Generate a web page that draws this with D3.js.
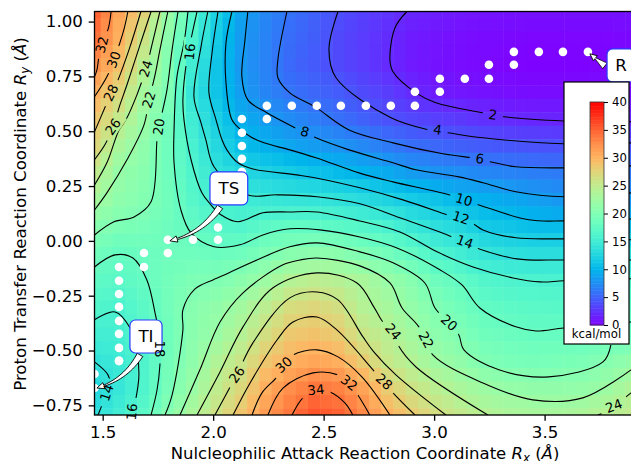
<!DOCTYPE html>
<html>
<head>
<meta charset="utf-8">
<script src="https://cdn.jsdelivr.net/npm/d3@7"></script>
<style>
  html, body { margin: 0; padding: 0; background: #fff; overflow: hidden; }
  text { font-family: "DejaVu Sans", sans-serif; fill: #000; }
</style>
</head>
<body>
<div id="chart"></div>
<script>
// energy surface, kcal/mol, one row per ryGrid value
let rxGrid = [1.463,1.573,1.684,1.794,1.905,2.015,2.126,2.236,2.346,2.457,2.567,2.678,2.788,2.899,3.009,3.119,3.230,3.340,3.451,3.561,3.672,3.782,3.893];
let ryGrid = [1.047,.924,.801,.679,.556,.433,.311,.188,.065,-.058,-.181,-.303,-.426,-.549,-.672,-.794];
let energy = [
  [35,31,27.6,22,17,12.3,8.9,7.1,5.9,5,4,3.3,2.6,1.9,1.5,1.2,1,.9,.8,.8,.8,.8,.8],
  [34,30.3,26,21,16.2,11.7,8.4,6.9,5.6,4.8,3.7,3,2.2,1.4,1,.7,.5,.4,.3,.3,.3,.3,.4],
  [32.3,29.1,24.6,20.3,15.2,11.2,8.2,6.8,5.4,4.6,3.7,3,2.1,1.3,.9,.6,.4,.2,.1,.1,.1,.2,.4],
  [30.2,27.3,23,19.9,14.3,11.2,8.6,7,6,5.3,4.7,3.8,3.1,2.1,1.4,1.1,.9,.7,.6,.6,.6,.6,.7],
  [28.5,25.4,22.1,19.1,15,12,9.5,8.4,7.4,6.6,5.8,5,4.1,3.6,3.2,2.8,2.4,2.1,1.9,1.8,1.8,1.8,1.9],
  [27.2,23.3,21.2,18.7,15.7,12.9,10.8,9.8,9,8.4,7.9,7.2,6.4,5.7,5.3,4.9,4.6,4.4,4.2,4.1,4.1,4.1,4.1],
  [24.9,21.8,20.7,18.7,16.3,13.9,12.8,12.2,11.7,11,10.5,9.9,9.3,8.4,7.8,7.5,7.1,6.9,6.6,6.4,6.3,6.3,6.3],
  [23,21.2,20.3,18.9,16.9,15.2,14.9,14.6,14.3,14.1,13.8,13.2,12.4,11.7,11.1,10.2,9.7,9.2,8.7,8.2,8,8,8],
  [20.7,19.8,19.4,18.6,17.8,16.9,16.4,17.2,17.7,17.6,17.2,16.7,15.9,14.6,13.5,12.8,11.6,11.2,10.7,10.6,10.6,10.6,10.6],
  [18.9,18,18.3,18.7,18.7,18.4,18.7,19.7,20.7,21,20.9,20,19,17.8,16.2,15.2,14.2,13.5,13.4,13.4,13.4,13.4,13.4],
  [17.5,17.1,17.9,19.1,19.8,20,20.9,22.3,24.1,24.8,24.2,23.3,22,20.5,18.6,17.7,16.5,16.1,16,15.9,15.9,15.9,15.9],
  [16.5,15.9,17.2,19,20.6,21.4,22.7,24.7,26.7,27.3,26.4,24.1,23.1,21.5,20,18.9,17.7,17.3,17.1,17,17.1,17.2,17.3],
  [15.3,15.4,16.8,18.8,20.8,22.1,24.1,26.4,28.5,29,28.2,25.8,24.5,22.7,21,20,18.8,18.4,18.1,18.1,18.2,18.4,18.5],
  [14,14.8,16.2,19,21.2,23.9,25.8,28.6,30.1,31,30.4,28.2,25.5,24,22.4,21.4,20,19.5,19.3,19.5,19.7,20.5,21.4],
  [13,14.3,16.3,19.4,22,25,27.2,30.4,32.4,33.8,33.2,31.2,28.3,26,24.6,23.3,22.3,21.7,21.4,21.4,21.5,22.3,23.7],
  [13.5,15.2,17.1,20.4,23.4,26.1,28.8,31.6,33.8,35.8,35,32.8,30.2,28.2,26.5,25.2,24.1,23.5,23.2,23.2,23.6,24.3,25]
];

// contour lines as [Rx, Ry]
let contour2 = [[[2.877,1.046],[2.823,.972],[2.8,.826],[2.814,.771],[2.918,.675],[3.008,.63],[3.221,.584],[3.316,.566],[3.587,.547],[3.891,.543]]];
let contour4 = [[[2.565,1.046],[2.524,.871],[2.556,.744],[2.805,.561],[2.977,.506],[3.063,.493],[3.221,.47],[3.587,.443],[3.891,.447]]];
let contour6 = [[[2.334,1.046],[2.293,.826],[2.293,.744],[2.347,.675],[2.461,.611],[2.615,.506],[2.814,.447],[3.04,.397],[3.203,.374],[3.257,.36],[3.37,.338],[3.587,.333],[3.891,.342]]];
let contour8 = [[[2.157,1.046],[2.144,.917],[2.13,.748],[2.157,.643],[2.243,.584],[2.37,.516],[2.465,.47],[2.615,.415],[2.814,.356],[2.918,.324],[3.112,.292],[3.221,.265],[3.37,.224],[3.587,.201],[3.891,.219]]];
let contour10 = [[[2.085,1.046],[2.058,.903],[2.058,.721],[2.085,.552],[2.126,.506],[2.171,.474],[2.23,.447],[2.347,.415],[2.465,.379],[2.66,.31],[2.814,.269],[3.067,.21],[3.203,.164],[3.429,.096],[3.587,.091],[3.891,.1]]];
let contour12 = [[[2.022,1.046],[1.995,.858],[1.981,.675],[2.013,.552],[2.04,.461],[2.062,.415],[2.112,.356],[2.18,.328],[2.379,.301],[2.465,.287],[2.664,.242],[2.859,.187],[3.058,.119],[3.176,.078],[3.221,.05],[3.37,.014],[3.587,.009],[3.891,.005]]];
let contour14 = [
  [[1.976,1.046],[1.945,.885],[1.913,.657],[1.945,.538],[1.967,.461],[2.004,.338],[2.153,.21],[2.289,.21],[2.47,.201],[2.664,.169],[2.845,.105],[3.081,.018],[3.176,-.027],[3.375,-.082],[3.582,-.087],[3.891,-.087]],
  [[1.463,-.552],[1.524,-.611],[1.533,-.657],[1.519,-.689],[1.497,-.748],[1.479,-.794]]
];
let contour16 = [
  [[1.927,1.046],[1.904,.94],[1.881,.826],[1.863,.643],[1.868,.552],[1.9,.37],[1.949,.219],[1.99,.164],[2.035,.119],[2.112,.087],[2.225,.128],[2.347,.132],[2.47,.132],[2.664,.091],[2.845,.041],[3.013,-.05],[3.176,-.119],[3.357,-.169],[3.479,-.187],[3.587,-.182],[3.891,-.173]],
  [[1.463,-.36],[1.556,-.324],[1.624,-.397],[1.655,-.506],[1.664,-.611],[1.655,-.693],[1.633,-.794]]
];
let contour18 = [
  [[1.886,1.046],[1.868,.903],[1.836,.748],[1.823,.506],[1.823,.356],[1.854,.141],[1.9,.036],[2.004,-.027],[2.121,-.018],[2.225,.027],[2.347,.055],[2.483,.05],[2.664,.018],[2.832,-.032],[3.026,-.132],[3.126,-.201],[3.207,-.306],[3.37,-.392],[3.461,-.411],[3.587,-.397],[3.891,-.37]],
  [[1.463,-.119],[1.556,-.064],[1.637,-.078],[1.7,-.178],[1.737,-.328],[1.759,-.452],[1.759,-.566],[1.746,-.68],[1.719,-.794]]
];
let contour20 = [
  [[1.841,1.046],[1.814,.871],[1.791,.689],[1.755,.52],[1.746,.461],[1.719,.178],[1.642,.109],[1.551,.087],[1.463,.027]],
  [[1.782,-.794],[1.814,-.703],[1.863,-.406],[1.863,-.315],[1.918,-.219],[1.999,-.178],[2.031,-.164],[2.198,-.087],[2.347,-.027],[2.47,-.009],[2.664,-.05],[2.814,-.1],[2.958,-.192],[3.004,-.306],[3.067,-.374],[3.112,-.429],[3.135,-.497],[3.293,-.588],[3.519,-.62],[3.764,-.552],[3.8,-.474]]
];
let contour22 = [
  [[1.795,1.046],[1.759,.871],[1.737,.757],[1.71,.643],[1.687,.529],[1.61,.37],[1.519,.219],[1.463,.141]],
  [[1.85,-.794],[1.94,-.588],[2.031,-.37],[2.135,-.237],[2.316,-.109],[2.393,-.087],[2.47,-.078],[2.664,-.114],[2.8,-.192],[2.855,-.306],[2.931,-.392],[2.994,-.52],[3.221,-.648],[3.447,-.725],[3.673,-.716],[3.891,-.588]]
];
let contour24 = [
  [[1.759,1.046],[1.723,.894],[1.696,.785],[1.655,.666],[1.605,.552],[1.574,.506],[1.519,.356],[1.463,.255]],
  [[1.927,-.794],[2.031,-.598],[2.135,-.392],[2.271,-.214],[2.47,-.146],[2.651,-.192],[2.727,-.301],[2.768,-.37],[2.814,-.415],[2.836,-.474],[2.918,-.575],[3.243,-.794]],
  [[3.741,-.794],[3.764,-.785],[3.814,-.753],[3.891,-.693]]
];
let contour26 = [
  [[1.719,1.046],[1.669,.894],[1.61,.712],[1.578,.62],[1.547,.52],[1.51,.438],[1.463,.37]],
  [[2.008,-.794],[2.108,-.607],[2.18,-.465],[2.347,-.26],[2.47,-.233],[2.565,-.269],[2.678,-.438],[2.727,-.506],[2.827,-.611],[3.053,-.794]]
];
let contour28 = [
  [[1.673,1.046],[1.619,.871],[1.56,.712],[1.538,.675],[1.515,.62],[1.463,.497]],
  [[2.09,-.794],[2.167,-.648],[2.289,-.452],[2.361,-.37],[2.47,-.347],[2.56,-.406],[2.732,-.598],[2.773,-.643],[2.814,-.693],[2.913,-.794]]
];
let contour30 = [
  [[1.614,1.046],[1.596,.963],[1.551,.826],[1.519,.748],[1.463,.657]],
  [[2.176,-.794],[2.221,-.693],[2.289,-.62],[2.32,-.566],[2.361,-.52],[2.47,-.497],[2.565,-.529],[2.673,-.62],[2.8,-.794]]
];
let contour32 = [
  [[1.538,1.046],[1.524,.963],[1.492,.894],[1.474,.78],[1.463,.748]],
  [[2.248,-.794],[2.316,-.671],[2.452,-.602],[2.565,-.611],[2.615,-.648],[2.655,-.703],[2.709,-.794]]
];
let contour34 = [[[2.357,-.794],[2.406,-.716],[2.465,-.68],[2.528,-.689],[2.596,-.739],[2.632,-.794]]];
let contourLines = [contour2,contour4,contour6,contour8,contour10,contour12,contour14,contour16,contour18,contour20,contour22,contour24,contour26,contour28,contour30,contour32,contour34];

// inline contour labels
let labelText = ["2","4","6","8","10","12","14","16","14","16","18","20","20","22","22","24","24","24","26","26","28","28","30","30","32","32","34"];
let labelRx = [3.266,3.016,3.207,2.415,3.135,3.121,3.139,1.895,1.519,1.633,1.759,1.755,3.067,1.71,2.963,1.696,2.814,3.814,1.547,2.108,1.538,2.773,1.551,2.32,1.497,2.615,2.465];
let labelRy = [.575,.506,.374,.497,.187,.105,-.005,.862,-.693,-.78,-.493,.52,-.374,.643,-.452,.785,-.415,-.753,.52,-.611,.675,-.643,.826,-.566,.894,-.648,-.68];
let labelAngle = [8,8,8,16,16,18,20,-85,-72,-85,90,-82,42,-72,62,-72,50,-20,-55,-55,-65,42,-70,-42,-76,38,-6];

// the path of white dots
let dotRx = [3.696,3.583,3.474,3.361,3.361,3.248,3.248,3.139,3.026,3.026,2.913,2.913,2.804,2.691,2.578,2.469,2.356,2.243,2.243,2.13,2.13,2.13,2.13,2.13,2.022,2.022,1.909,1.795,1.795,1.687,1.687,1.574,1.574,1.574,1.574,1.574,1.574,1.574,1.574,1.574,1.463,1.463,1.463];
let dotRy = [.862,.862,.862,.862,.803,.803,.739,.739,.739,.68,.68,.616,.616,.616,.616,.616,.616,.616,.556,.556,.493,.433,.374,.315,.061,.005,.005,.005,-.055,-.055,-.119,-.119,-.182,-.242,-.301,-.365,-.424,-.488,-.547,-.547,-.607,-.671];

// annotation boxes and their arrows
let noteText = ["R","TS","TI"];
let noteRx = [3.846,2.071,1.696];
let noteRy = [.80,.239,-.436];
let noteTailRx = [3.773,2.031,1.669];
let noteTailRy = [.798,.155,-.52];
let noteTipRx = [3.705,1.804,1.474];
let noteTipRy = [.853,0,-.671];

let xTicks = [1.5,2,2.5,3,3.5];
let yTicks = [1,.75,.5,.25,0,-.25,-.5,-.75];
let barTicks = [0,5,10,15,20,25,30,35,40];

let width = 631, height = 461;
let plot = {left: 94.5, right: 631, top: 11.5, bottom: 415};

let x = d3.scaleLinear().domain([1.463, 3.891]).range([plot.left, plot.right]);
let y = d3.scaleLinear().domain([1.046, -.794]).range([plot.top, plot.bottom]);

// matplotlib's "rainbow"
let color = d3.scaleSequential([0, 40], function(t) {
  return d3.rgb(
    255 * Math.abs(2 * t - .5),
    255 * Math.sin(Math.PI * t),
    255 * Math.cos(Math.PI * t / 2)
  ).toString();
});

let svg = d3.select("#chart").append("svg")
  .attr("width", width).attr("height", height)
  .style("display", "block");

let defs = svg.append("defs");
defs.append("clipPath").attr("id", "plotClip").append("rect")
  .attr("x", plot.left).attr("y", plot.top)
  .attr("width", plot.right - plot.left).attr("height", plot.bottom - plot.top);

// heat cells at half the grid step, same look as the blocky original
let cells = [];
d3.range(0, 2 * rxGrid.length - 1).forEach(function(i) {
  d3.range(0, 2 * ryGrid.length - 1).forEach(function(j) {
    let i0 = Math.floor(i / 2), i1 = Math.ceil(i / 2);
    let j0 = Math.floor(j / 2), j1 = Math.ceil(j / 2);
    cells.push({
      x0: i == 0 ? rxGrid[0] : (rxGrid[Math.floor((i - 1) / 2)] + rxGrid[Math.ceil((i - 1) / 2)] + rxGrid[i0] + rxGrid[i1]) / 4,
      x1: i == 2 * rxGrid.length - 2 ? rxGrid[rxGrid.length - 1] : (rxGrid[i0] + rxGrid[i1] + rxGrid[Math.floor((i + 1) / 2)] + rxGrid[Math.ceil((i + 1) / 2)]) / 4,
      y0: j == 0 ? ryGrid[0] : (ryGrid[Math.floor((j - 1) / 2)] + ryGrid[Math.ceil((j - 1) / 2)] + ryGrid[j0] + ryGrid[j1]) / 4,
      y1: j == 2 * ryGrid.length - 2 ? ryGrid[ryGrid.length - 1] : (ryGrid[j0] + ryGrid[j1] + ryGrid[Math.floor((j + 1) / 2)] + ryGrid[Math.ceil((j + 1) / 2)]) / 4,
      z: (energy[j0][i0] + energy[j0][i1] + energy[j1][i0] + energy[j1][i1]) / 4
    });
  });
});

let plotArea = svg.append("g").attr("clip-path", "url(#plotClip)");

plotArea.append("g").selectAll("rect").data(cells).enter().append("rect")
  .attr("x", d => x(d.x0))
  .attr("y", d => y(d.y0))
  .attr("width", d => x(d.x1) - x(d.x0) + .5)
  .attr("height", d => y(d.y1) - y(d.y0) + .5)
  .attr("fill", d => color(d.z));

// contour lines, with gaps cut out where the labels go
let mask = defs.append("mask").attr("id", "labelGaps")
  .attr("maskUnits", "userSpaceOnUse")
  .attr("x", 0).attr("y", 0).attr("width", width).attr("height", height);
mask.append("rect").attr("width", width).attr("height", height).attr("fill", "#fff");

let line = d3.line().x(d => x(d[0])).y(d => y(d[1])).curve(d3.curveCatmullRom.alpha(.5));

plotArea.append("g").attr("mask", "url(#labelGaps)")
  .selectAll("path").data(contourLines.flat()).enter().append("path")
  .attr("d", line)
  .attr("fill", "none")
  .attr("stroke", "#000")
  .attr("stroke-width", 1.1);

plotArea.append("g").selectAll("circle").data(dotRx).enter().append("circle")
  .attr("cx", d => x(d))
  .attr("cy", (d, i) => y(dotRy[i]))
  .attr("r", 4.3)
  .attr("fill", "#fff");

// axes
let xAxis = svg.append("g").attr("transform", "translate(0," + plot.bottom + ")")
  .call(d3.axisBottom(x).tickValues(xTicks).tickFormat(d3.format(".1f")).tickSize(5.8).tickPadding(5.8));
let yAxis = svg.append("g").attr("transform", "translate(" + plot.left + ",0)")
  .call(d3.axisLeft(y).tickValues(yTicks).tickFormat(d3.format(".2f")).tickSize(5.8).tickPadding(5.8));
svg.selectAll(".tick text").style("font-size", "16.67px").attr("font-family", null);
svg.selectAll(".tick line").attr("stroke-width", 1.33);
xAxis.select(".domain").remove();
yAxis.select(".domain").remove();

svg.append("rect")
  .attr("x", plot.left).attr("y", plot.top)
  .attr("width", plot.right - plot.left + 5).attr("height", plot.bottom - plot.top)
  .attr("fill", "none").attr("stroke", "#000").attr("stroke-width", 1.33);

let xTitle = svg.append("text")
  .attr("x", 365).attr("y", 459)
  .attr("text-anchor", "middle").style("font-size", "16.5px");
xTitle.append("tspan").text("Nulcleophilic Attack Reaction Coordinate ");
xTitle.append("tspan").style("font-style", "italic").text("R");
xTitle.append("tspan").style("font-style", "italic").style("font-size", "11.7px").attr("dy", 2.5).text("x");
xTitle.append("tspan").attr("dy", -2.5).text(" (");
xTitle.append("tspan").style("font-style", "italic").text("Å");
xTitle.append("tspan").text(")");

let yTitle = svg.append("text")
  .attr("transform", "translate(26,214) rotate(-90)")
  .attr("text-anchor", "middle").style("font-size", "16.67px");
yTitle.append("tspan").text("Proton Transfer Reaction Coordinate ");
yTitle.append("tspan").style("font-style", "italic").text("R");
yTitle.append("tspan").style("font-style", "italic").style("font-size", "11.7px").attr("dy", 2.5).text("y");
yTitle.append("tspan").attr("dy", -2.5).text(" (");
yTitle.append("tspan").style("font-style", "italic").text("Å");
yTitle.append("tspan").text(")");

// a tapered arc3 style arrow, same as matplotlib's "fancy" boxes
function arrowShape(x0, y0, x1, y1, rad, tail) {
  let cx = (x0 + x1) / 2 + rad * (y1 - y0);
  let cy = (y0 + y1) / 2 - rad * (x1 - x0);
  let at = function(t) {
    let a = (1 - t) * (1 - t), b = 2 * t * (1 - t), c = t * t;
    let dx = 2 * (1 - t) * (cx - x0) + 2 * t * (x1 - cx);
    let dy = 2 * (1 - t) * (cy - y0) + 2 * t * (y1 - cy);
    let n = Math.hypot(dx, dy);
    return {x: a * x0 + b * cx + c * x1, y: a * y0 + b * cy + c * y1, nx: -dy / n, ny: dx / n, len: n};
  };
  let len = at(.5).len;
  let head = Math.min(.8, 7 / len);
  let left = [], right = [];
  d3.range(0, 1 - head + .001, (1 - head) / 16).forEach(function(t) {
    let p = at(t);
    let w = tail * (1 - t / (1 - head)) + .6;
    left.push([p.x + p.nx * w, p.y + p.ny * w]);
    right.unshift([p.x - p.nx * w, p.y - p.ny * w]);
  });
  let b = at(1 - head);
  left.push([b.x + b.nx * 3.2, b.y + b.ny * 3.2]);
  left.push([x1, y1]);
  right.unshift([b.x - b.nx * 3.2, b.y - b.ny * 3.2]);
  return d3.line()(left.concat(right)) + "Z";
}

let notes = svg.append("g").selectAll("g").data(noteText).enter().append("g");

notes.append("path")
  .attr("d", (d, i) => arrowShape(x(noteTailRx[i]), y(noteTailRy[i]), x(noteTipRx[i]), y(noteTipRy[i]), i == 0 ? 0 : .2, i == 0 ? 3 : 2.6))
  .attr("fill", "#fff").attr("stroke", "#000").attr("stroke-width", .9);

let noteLabels = notes.append("text")
  .attr("x", (d, i) => x(noteRx[i]))
  .attr("y", (d, i) => y(noteRy[i]))
  .attr("text-anchor", "middle")
  .attr("dominant-baseline", "central")
  .style("font-size", "16.67px")
  .text(d => d);

noteLabels.each(function(d, i) {
  let w = this.getBBox().width + 16;
  d3.select(this.parentNode).insert("rect", "text")
    .attr("x", x(noteRx[i]) - w / 2)
    .attr("y", y(noteRy[i]) - 16.5)
    .attr("width", w).attr("height", 33)
    .attr("rx", 5.5)
    .attr("fill", "#fff").attr("stroke", "#2a3cff").attr("stroke-width", 1.2);
});

// contour labels go above the boxes, see the 18 near TI
let labels = svg.append("g").selectAll("text").data(labelText).enter().append("text")
  .attr("transform", (d, i) => "translate(" + x(labelRx[i]) + "," + y(labelRy[i]) + ") rotate(" + labelAngle[i] + ")")
  .attr("text-anchor", "middle")
  .attr("dominant-baseline", "central")
  .style("font-size", "13.3px")
  .text(d => d);

labels.each(function(d, i) {
  let w = this.getBBox().width + 12;
  mask.append("rect")
    .attr("x", -w / 2).attr("y", -7).attr("width", w).attr("height", 14)
    .attr("transform", "translate(" + x(labelRx[i]) + "," + y(labelRy[i]) + ") rotate(" + labelAngle[i] + ")")
    .attr("fill", "#000");
});

// colorbar inset
let bar = svg.append("g");
bar.append("rect")
  .attr("x", 564).attr("y", 82).attr("width", 65).attr("height", 262)
  .attr("fill", "#fff").attr("stroke", "#000").attr("stroke-width", 1.2);

let barScale = d3.scaleLinear().domain([0, 40]).range([325, 102]);
let barStops = d3.range(0, 40, .25);
bar.append("g").selectAll("rect").data(barStops).enter().append("rect")
  .attr("x", 590).attr("width", 14)
  .attr("y", d => barScale(d + .25))
  .attr("height", d => barScale(d) - barScale(d + .25) + .5)
  .attr("fill", d => color(d + .125));
bar.append("rect")
  .attr("x", 590).attr("y", 102).attr("width", 14).attr("height", 223)
  .attr("fill", "none").attr("stroke", "#333").attr("stroke-width", .8);

let barAxis = bar.append("g").attr("transform", "translate(604,0)")
  .call(d3.axisRight(barScale).tickValues(barTicks).tickFormat(d3.format("d")).tickSize(4).tickPadding(4));
barAxis.select(".domain").remove();
barAxis.selectAll("text").style("font-size", "11.7px").attr("font-family", null);

bar.append("text")
  .attr("x", 596.5).attr("y", 338)
  .attr("text-anchor", "middle").style("font-size", "11.7px")
  .text("kcal/mol");
</script>
</body>
</html>
